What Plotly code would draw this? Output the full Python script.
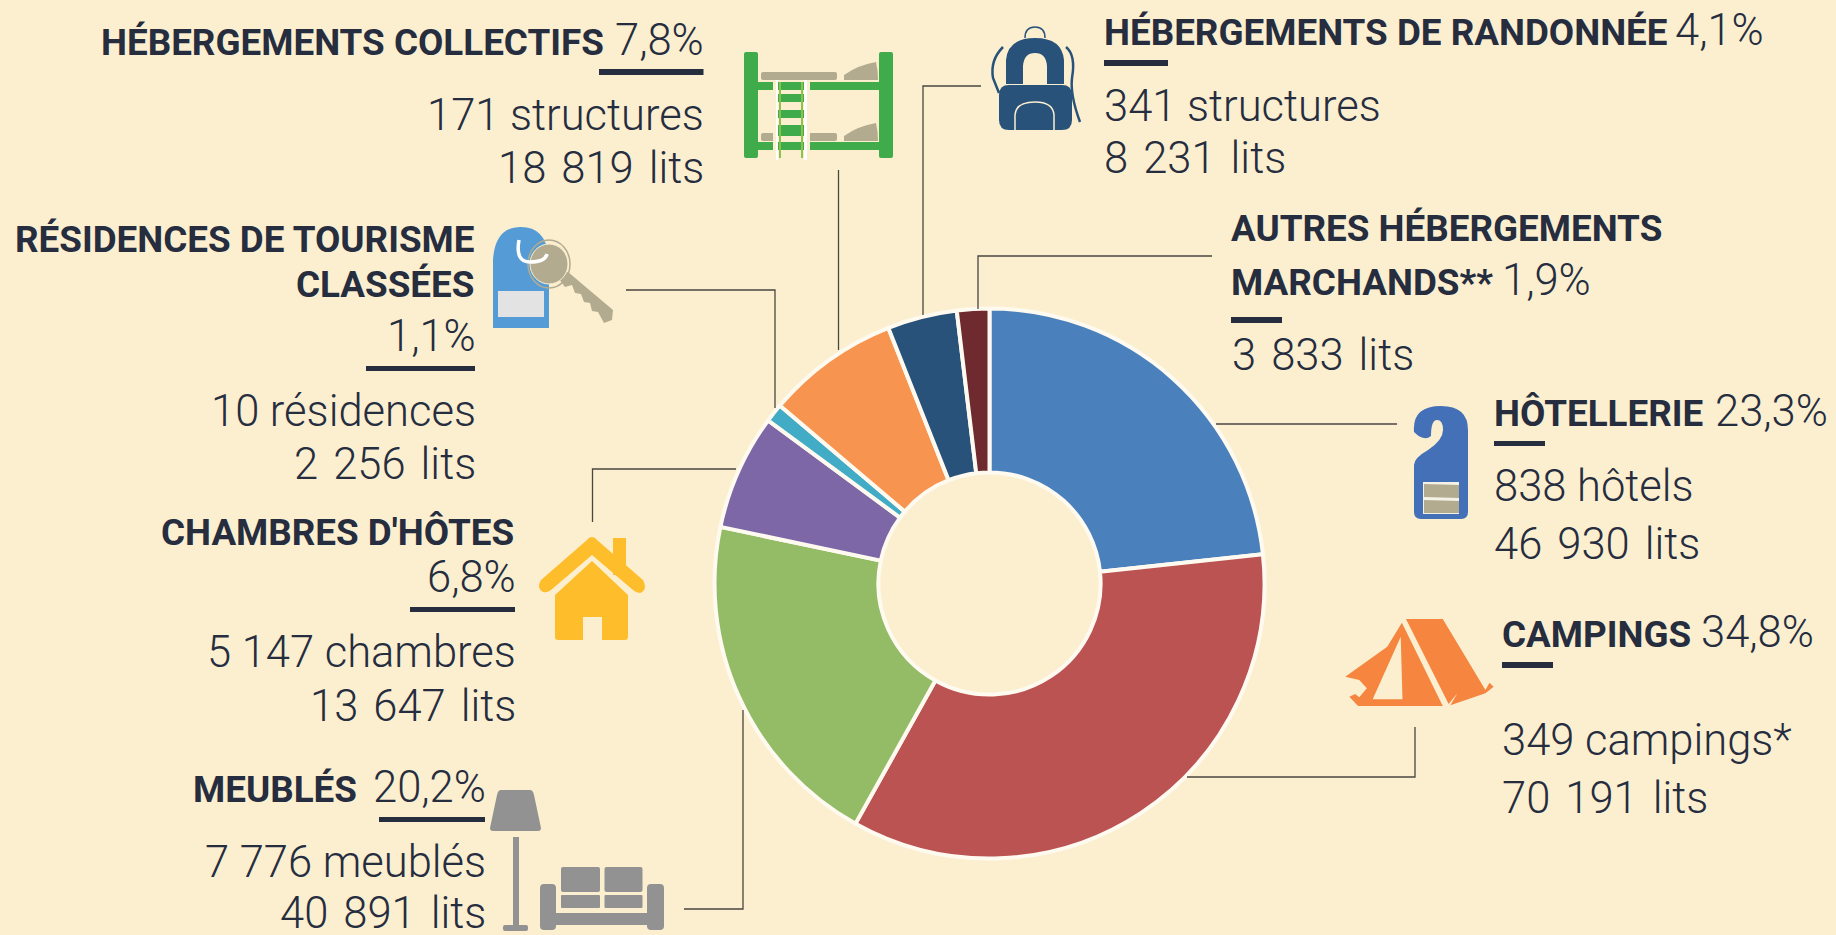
import plotly.graph_objects as go

# ---- data ----
categories = ["Hôtellerie", "Campings", "Meublés", "Chambres d'hôtes",
              "Résidences de tourisme classées", "Hébergements collectifs",
              "Hébergements de randonnée", "Autres hébergements marchands"]
shares = [23.3, 34.8, 20.2, 6.8, 1.1, 7.8, 4.1, 1.9]
colors = ["#4A81BC", "#BC5353", "#94BC67", "#7D67A6", "#42ABC5", "#F79450", "#29527B", "#6E2A2F"]

W, H = 1836, 935
BG = "#FCEFD0"
INK = "#252D3F"
TAN = "#B3AB90"
BOLD = "Roboto, sans-serif"
LIGHT = "Roboto, sans-serif"
BS, LS = 36.8, 43.5

cx, cy, R = 989.5, 583.5, 275

fig = go.Figure(go.Pie(
    labels=categories, values=shares, sort=False, direction="clockwise", rotation=0,
    hole=0.404, textinfo="none", hoverinfo="label+percent",
    marker=dict(colors=colors, line=dict(color="#FFFAF0", width=4)),
    domain=dict(x=[(cx-R)/W, (cx+R)/W], y=[1-(cy+R)/H, 1-(cy-R)/H]),
    showlegend=False,
))

px = lambda x: x / W
py = lambda y: 1 - y / H
shapes, annos = [], []


def txt(s, x, base, anchor, bold=False):
    size = BS if bold else LS
    if "lits" in s:
        s = s.replace(" ", " \u200a")
    if anchor == "right":
        x = x + (0.5 if bold else 2.5)
    else:
        x = x - 1.5
    annos.append(dict(text=s, x=px(x), y=py(base - 0.34*size), xref="paper", yref="paper",
                      xanchor=anchor, yanchor="middle", showarrow=False, borderpad=0,
                      font=dict(family=BOLD if bold else LIGHT, size=size, color=INK,
                                weight=700 if bold else 300)))


def bar(x0, x1, y0, y1, color=INK):
    shapes.append(dict(type="rect", xref="paper", yref="paper", x0=px(x0), x1=px(x1),
                       y0=py(y0), y1=py(y1), fillcolor=color, line=dict(width=0)))


def path(cmds, fill=None, line=None, lw=0):
    out = []
    for c in cmds:
        if isinstance(c, str):
            out.append(c)
        else:
            out.append(f"{px(c[0]):.5f},{py(c[1]):.5f}")
    d = dict(type="path", xref="paper", yref="paper", path=" ".join(out),
             line=dict(width=lw, color=line or "rgba(0,0,0,0)"))
    if fill:
        d["fillcolor"] = fill
    shapes.append(d)


def poly(pts, fill):
    cmds = []
    for i, p in enumerate(pts):
        cmds += ["M" if i == 0 else "L", p]
    path(cmds + ["Z"], fill=fill)


def leader(pts):
    cmds = []
    for i, p in enumerate(pts):
        cmds += ["M" if i == 0 else "L", p]
    path(cmds, line="#4A4640", lw=1.3)


def round_rect(x0, y0, x1, y1, r, fill):
    path(["M", (x0+r, y0), "L", (x1-r, y0), "Q", (x1, y0), (x1, y0+r), "L", (x1, y1-r),
          "Q", (x1, y1), (x1-r, y1), "L", (x0+r, y1), "Q", (x0, y1), (x0, y1-r),
          "L", (x0, y0+r), "Q", (x0, y0), (x0+r, y0), "Z"], fill=fill)


# ---- leaders ----
leader([(838.5, 170), (838.5, 350)])
leader([(626, 290), (775, 290), (775, 408)])
leader([(592.5, 522), (592.5, 469), (736, 469)])
leader([(684, 909), (743, 909), (743, 710)])
leader([(981, 86), (923, 86), (923, 315)])
leader([(1212, 256), (978, 256), (978, 309)])
leader([(1216, 424), (1397, 424)])
leader([(1187, 777), (1415, 777), (1415, 727)])

# ---- texts ----
txt("HÉBERGEMENTS COLLECTIFS", 604, 55, "right", True)
txt("7,8%", 702, 55, "right")
bar(599, 703.5, 69, 75)
txt("171 structures", 702, 130, "right")
txt("18 819 lits", 702, 183, "right")

txt("RÉSIDENCES DE TOURISME", 474, 252, "right", True)
txt("CLASSÉES", 474, 297, "right", True)
txt("1,1%", 474, 351, "right")
bar(366, 475, 366, 371)
txt("10 résidences", 474, 426, "right")
txt("2 256 lits", 474, 479, "right")

txt("CHAMBRES D'HÔTES", 514, 545, "right", True)
txt("6,8%", 514, 592, "right")
bar(410, 515, 607, 612)
txt("5 147 chambres", 514, 667, "right")
txt("13 647 lits", 514, 721, "right")

txt("MEUBLÉS", 357, 802, "right", True)
txt("20,2%", 484, 802, "right")
bar(379, 485, 817, 822)
txt("7 776 meublés", 484, 877, "right")
txt("40 891 lits", 484, 928, "right")

txt("HÉBERGEMENTS DE RANDONNÉE", 1104, 45, "left", True)
txt("4,1%", 1675, 45, "left")
bar(1104, 1168, 60, 66)
txt("341 structures", 1104, 121, "left")
txt("8 231 lits", 1104, 173, "left")

txt("AUTRES HÉBERGEMENTS", 1231, 241, "left", True)
txt("MARCHANDS**", 1231, 295, "left", True)
txt("1,9%", 1502, 295, "left")
bar(1231, 1282, 317, 323)
txt("3 833 lits", 1232, 370, "left")

txt("HÔTELLERIE", 1494, 426, "left", True)
txt("23,3%", 1715, 426, "left")
bar(1494, 1545, 441, 446)
txt("838 hôtels", 1494, 501, "left")
txt("46 930 lits", 1494, 559, "left")

txt("CAMPINGS", 1502, 647, "left", True)
txt("34,8%", 1701, 647, "left")
bar(1502, 1553, 662, 668)
txt("349 campings*", 1502, 755, "left")
txt("70 191 lits", 1502, 813, "left")

# ---- icon: bunk bed ----
G = "#3FAB4A"
round_rect(744, 52, 758, 158, 2, G)
round_rect(879, 52, 893, 158, 2, G)
bar(756, 881, 82, 90, G)
bar(756, 881, 142, 150, G)
round_rect(761, 72, 837, 80, 2, TAN)
path(["M", (844, 80), "L", (844, 75), "Q", (858, 65), (876, 62), "Q", (878, 70), (878, 80), "Z"], fill=TAN)
round_rect(761, 133, 837, 141, 2, TAN)
path(["M", (844, 141), "L", (844, 136), "Q", (858, 126), (876, 123), "Q", (878, 131), (878, 141), "Z"], fill=TAN)
bar(773, 810, 80, 160, BG)
bar(776, 778, 80, 160, "#FFFFFF")
bar(804, 807, 80, 160, "#FFFFFF")
bar(778, 804, 82, 90, G)
bar(778, 804, 94, 102, G)
bar(778, 804, 110, 118, G)
bar(778, 804, 125, 136, G)
bar(778, 804, 142, 150, G)
bar(779, 781, 82, 158, "#8CC14C")
bar(801, 803, 82, 158, "#8CC14C")

# ---- icon: key + tag ----
B = "#559BD6"
path(["M", (493, 328), "L", (493, 260), "Q", (495, 227), (521, 227), "Q", (547, 227), (549, 260),
      "L", (549, 328), "Z"], fill=B)
bar(498, 544, 291, 317, "#E3E3E3")
poly([(556, 275), (568, 272), (613, 310), (612, 320), (604, 323), (598, 312), (592, 311), (590, 303),
      (584, 302), (581, 294), (575, 293), (572, 285), (565, 287)], TAN)
shapes.append(dict(type="circle", xref="paper", yref="paper", x0=px(530), x1=px(568), y0=py(244), y1=py(284),
                   fillcolor=TAN, line=dict(color=BG, width=1)))
shapes.append(dict(type="circle", xref="paper", yref="paper", x0=px(528), x1=px(570), y0=py(240), y1=py(288),
                   line=dict(color=TAN, width=1.5)))
path(["M", (519, 240), "Q", (515, 262), (530, 262), "Q", (545, 262), (547, 254)], line="#FFFFFF", lw=3.5)

# ---- icon: backpack ----
N = "#29527B"
path(["M", (1025, 38), "Q", (1025, 27), (1035, 27), "Q", (1045, 27), (1045, 38)], line=N, lw=1.5)
path(["M", (1006, 84), "L", (1006, 60), "Q", (1008, 38), (1035, 38), "Q", (1062, 38), (1064, 60),
      "L", (1064, 84), "L", (1047, 84), "L", (1047, 66), "Q", (1046, 53), (1035, 53), "Q", (1024, 53),
      (1023, 66), "L", (1023, 84), "Z"], fill=N)
path(["M", (1003, 47), "Q", (990, 60), (993, 78), "L", (999, 93)], line=N, lw=2.5)
path(["M", (1066, 47), "Q", (1076, 55), (1072, 78), "Q", (1070, 95), (1080, 122)], line=N, lw=2.5)
round_rect(999, 85, 1072, 130, 10, N)
path(["M", (1015, 130), "L", (1015, 115), "Q", (1016, 102), (1035, 102), "Q", (1053, 102), (1054, 115),
      "L", (1054, 130)], line=BG, lw=1.5)

# ---- icon: door hanger ----
D = "#4470B8"
path(["M", (1414, 512), "L", (1414, 465), "Q", (1414, 458), (1428, 450), "Q", (1443, 440), (1443, 430),
      "Q", (1443, 420), (1437, 420), "Q", (1431, 420), (1431, 436), "Q", (1424, 442), (1414, 432),
      "Q", (1412, 406), (1441, 406), "Q", (1468, 406), (1468, 430), "L", (1468, 512),
      "Q", (1468, 519), (1461, 519), "L", (1421, 519), "Q", (1414, 519), (1414, 512), "Z"], fill=D)
bar(1423, 1459, 482, 514, "#F4F1E6")
poly([(1424, 484), (1459, 485), (1459, 498), (1424, 497)], TAN)
poly([(1424, 500), (1459, 501), (1459, 513), (1424, 513)], TAN)

# ---- icon: house ----
Y = "#FEBE2C"
bar(613, 626, 538, 575, Y)
path(["M", (592, 537), "Q", (595, 537), (597, 540), "L", (643, 580), "Q", (648, 590), (640, 593),
      "Q", (636, 593), (633, 590), "L", (592, 555), "L", (551, 590), "Q", (547, 593), (543, 592),
      "Q", (536, 588), (541, 580), "L", (587, 540), "Q", (589, 537), (592, 537), "Z"], fill=Y)
path(["M", (592, 561), "L", (628, 595), "L", (628, 637), "Q", (628, 640), (625, 640), "L", (602, 640),
      "L", (602, 617), "L", (583, 617), "L", (583, 640), "L", (558, 640), "Q", (555, 640), (555, 637),
      "L", (555, 595), "Z"], fill=Y)

# ---- icon: lamp + sofa ----
S = "#929292"
path(["M", (501, 790), "L", (530, 790), "Q", (533, 790), (534, 795), "L", (541, 828), "Q", (541, 831),
      (538, 831), "L", (493, 831), "Q", (490, 831), (490, 828), "L", (497, 795), "Q", (498, 790), (501, 790), "Z"], fill=S)
bar(513, 519, 837, 927, S)
round_rect(503, 925, 528, 931, 2, S)
round_rect(561, 867, 600, 892, 2, S)
round_rect(604.5, 867, 642.5, 892, 2, S)
round_rect(561, 895, 600, 908, 1, S)
round_rect(604.5, 895, 642.5, 908, 1, S)
round_rect(540, 884, 556, 930, 4, S)
round_rect(647, 884, 664, 930, 4, S)
bar(550, 652, 913, 925, S)

# ---- icon: tent ----
T = "#F5853F"
tx = lambda x: 920 + x / 1.712
ty = lambda y: 480 + y / 3
tent = lambda pts: [(tx(a), ty(b)) for a, b in pts]
poly(tent([(832, 417), (895, 417), (968, 630), (975, 608), (982, 620), (968, 640), (908, 676), (920, 640), (905, 672)]), T)
poly(tent([(825, 428), (895, 678), (750, 678), (735, 650), (745, 642), (752, 652), (765, 625), (752, 600), (728, 590), (800, 500)]), T)
poly(tent([(823, 470), (826, 658), (775, 658)]), BG)

fig.update_layout(width=W, height=H, margin=dict(l=0, r=0, t=0, b=0), paper_bgcolor=BG, plot_bgcolor=BG,
                  shapes=shapes, annotations=annos, showlegend=False)
fig.write_html("out.html", config=dict(displayModeBar=False),
               post_script=f"document.body.style.margin='0';document.body.style.background='{BG}';")
